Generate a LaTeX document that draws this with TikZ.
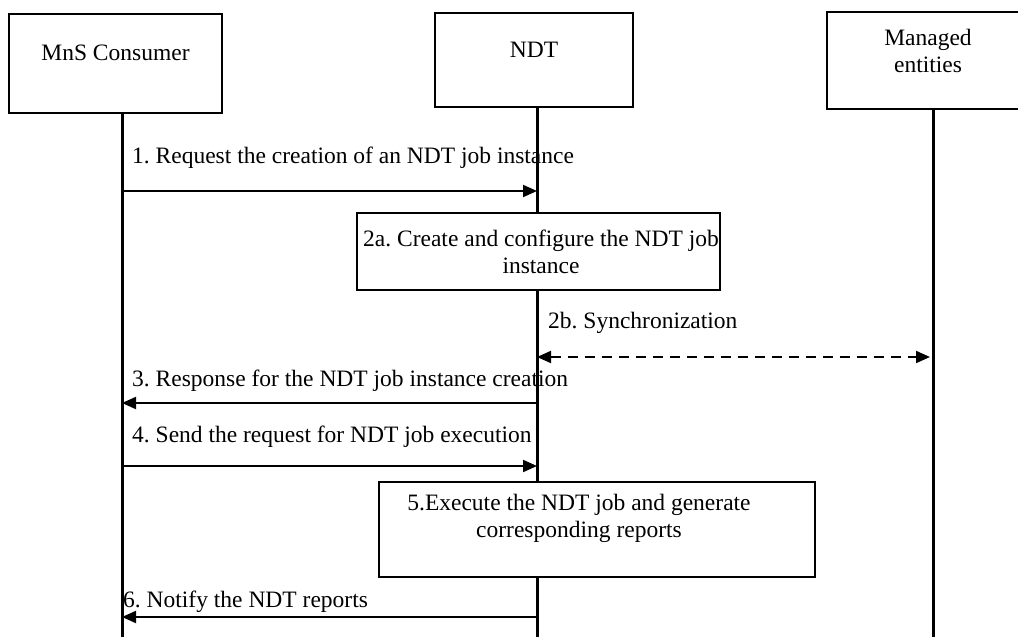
\documentclass[tikz,border=0pt]{standalone}
\usepackage{fontspec}
\setmainfont{Liberation Serif}
\usetikzlibrary{arrows.meta}
\frenchspacing
\begin{document}
\begin{tikzpicture}[x=1pt,y=-1pt,
  actor/.style={draw,line width=2pt,fill=white,inner sep=0pt},
  procbox/.style={draw,line width=2pt,fill=white,inner sep=0pt},
  life/.style={line width=3pt},
  msg/.style={line width=2pt,-{Triangle[length=14pt,width=12pt]}},
  sync/.style={line width=2pt,dash pattern=on 10pt off 7pt,{Triangle[length=14pt,width=12pt]}-{Triangle[length=14pt,width=12pt]}},
  lbl/.style={anchor=base west,inner sep=0pt},
  txt/.style={inner sep=0pt,align=center},
  font=\fontsize{23.5}{27}\selectfont\frenchspacing]
\useasboundingbox (0,0) rectangle (1018,637);
\fill[white] (0,0) rectangle (1018,637);
% lifeline coordinates
\coordinate (mT) at (122,113); \coordinate (mB) at (122,640);
\coordinate (nT) at (537,107); \coordinate (nB) at (537,640);
\coordinate (eT) at (933,109); \coordinate (eB) at (933,640);
\draw[life] (mT) -- (mB);
\draw[life] (nT) -- (nB);
\draw[life] (eT) -- (eB);
% actors
\node[actor,minimum width=213pt,minimum height=99pt] (mns) at (115.5,63.5) {};
\node[txt] at (115.5,53) {MnS Consumer};
\node[actor,minimum width=198pt,minimum height=94pt] (ndt) at (534,60) {};
\node[txt] at (534,50) {NDT};
\node[actor,minimum width=200pt,minimum height=97pt] (me) at (927,60.5) {};
\node[txt] at (928,51) {Managed\\entities};
% message points
\coordinate (m1) at (122,191); \coordinate (n1) at (537,191);
\coordinate (n2) at (537,357); \coordinate (e2) at (930,357);
\coordinate (m3) at (122,403); \coordinate (n3) at (537,403);
\coordinate (m4) at (122,466); \coordinate (n4) at (537,466);
\coordinate (m6) at (122,617); \coordinate (n6) at (537,617);
% processing boxes
\node[procbox,minimum width=363pt,minimum height=77pt] (p2a) at (538.5,251.5) {};
\node[txt] at (541,251.5) {2a. Create and configure the NDT job\\instance};
\node[procbox,minimum width=436pt,minimum height=95pt] (p5) at (597,529.5) {};
\node[txt] at (579,518) {5.Execute the NDT job and generate\\corresponding reports};
% messages
\draw[msg] (m1) -- (n1);
\node[lbl] at (132,163) {1. Request the creation of an NDT job instance};
\draw[sync] (n2) -- (e2);
\node[lbl] at (548,328) {2b. Synchronization};
\draw[msg] (n3) -- (m3);
\node[lbl] at (132,386) {3. Response for the NDT job instance creation};
\draw[msg] (m4) -- (n4);
\node[lbl] at (132,442) {4. Send the request for NDT job execution};
\draw[msg] (n6) -- (m6);
\node[lbl] at (123,607) {6. Notify the NDT reports};
\end{tikzpicture}
\end{document}
